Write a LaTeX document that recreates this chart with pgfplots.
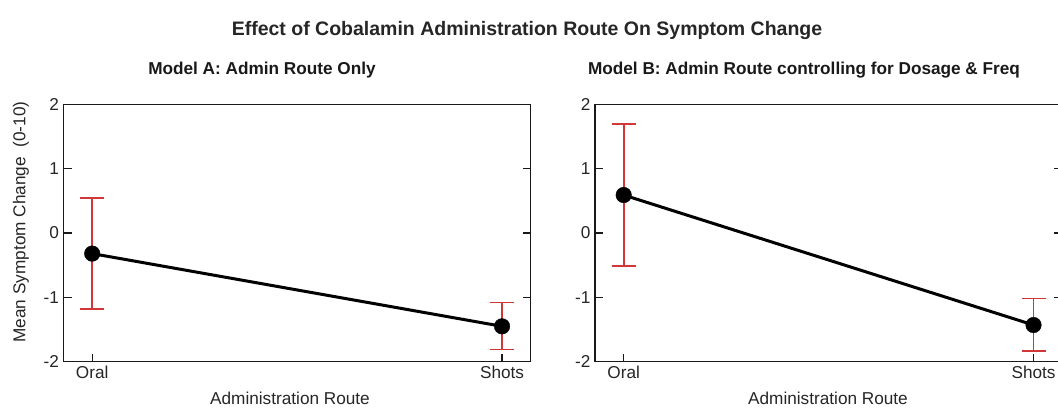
\documentclass[border=0pt]{standalone}
\usepackage{fontspec}
\setmainfont{Liberation Sans}
\usepackage{pgfplots}
\pgfplotsset{compat=1.18}
\definecolor{errred}{RGB}{210,55,55}
\definecolor{axgray}{RGB}{25,25,25}
\begin{document}
\begin{tikzpicture}[x=1bp,y=1bp]
\useasboundingbox (0,0) rectangle (1058,413);
\pgfplotsset{
  panel/.style={
    scale only axis, width=467.2bp, height=257.4bp, anchor=south west,
    xmin=-0.07, xmax=1.07, ymin=-2, ymax=2,
    xtick={0,1}, xticklabels={Oral,Shots},
    ytick={-2,-1,0,1,2}, yticklabels={-2,-1,0,1,2},
    xtick pos=bottom, ytick pos=both, yticklabel pos=left,
    tick align=inside, major tick length=8bp,
    axis line style={line width=1.3bp, draw=axgray},
    every tick/.style={line width=1.3bp, draw=axgray},
    tick label style={font=\fontsize{17.2bp}{20bp}\selectfont, text=black!85},
    /pgf/number format/assume math mode=true,
    yticklabel style={xshift=-1bp},
    xticklabel style={yshift=-1bp},
    clip=false,
  },
  errs/.style={errred, only marks, mark=none, forget plot, line width=1.6bp,
    error bars/.cd, y dir=both, y explicit,
    error bar style={errred, line width=1.6bp},
    error mark=-, error mark options={rotate=90, errred, line width=1.6bp, mark size=12bp}},
  meanline/.style={black, line width=3bp, mark=*, mark size=7.8bp,
    mark options={solid, fill=black, line width=0.4bp}},
}
\begin{axis}[panel, at={(63.5bp,51.3bp)}]
\addplot[errs] coordinates {(0,-0.32) +- (0,0.86) (1,-1.445) +- (0,0.365)};
\addplot[meanline] coordinates {(0,-0.32) (1,-1.45)};
\end{axis}
\begin{axis}[panel, at={(595bp,51.3bp)}]
\addplot[errs] coordinates {(0,0.59) +- (0,1.10) (1,-1.425) +- (0,0.405)};
\addplot[meanline] coordinates {(0,0.59) (1,-1.43)};
\end{axis}
\node[font=\fontsize{19.5bp}{23bp}\selectfont\bfseries, text=black!85] at (527,382) {Effect of Cobalamin Administration Route On Symptom Change};
\node[font=\fontsize{17.2bp}{20bp}\selectfont\bfseries, text=black!90] at (262,343) {Model A: Admin Route Only};
\node[font=\fontsize{17.2bp}{20bp}\selectfont\bfseries, text=black!90] at (804,343) {Model B: Admin Route controlling for Dosage \& Freq};
\node[rotate=90, font=\fontsize{17.2bp}{20bp}\selectfont, text=black!85] at (21,191) {Mean Symptom Change\ \ (0-10)};
\node[font=\fontsize{17.2bp}{20bp}\selectfont, text=black!85] at (290,15) {Administration Route};
\node[font=\fontsize{17.2bp}{20bp}\selectfont, text=black!85] at (828,15) {Administration Route};
\end{tikzpicture}
\end{document}
